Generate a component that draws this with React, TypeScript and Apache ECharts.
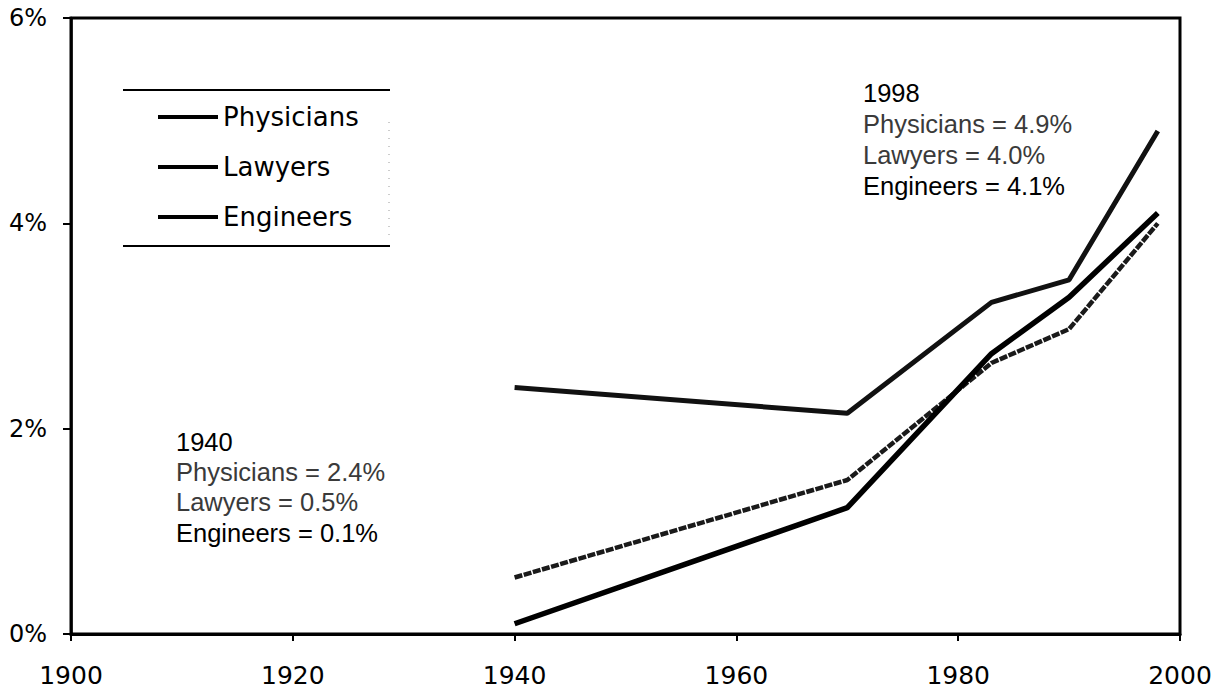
import React, { useEffect, useRef } from "react";
import * as echarts from "echarts";

const years = [1940, 1970, 1983, 1990, 1998];
const physicians = [2.4, 2.15, 3.23, 3.45, 4.9];
const lawyers = [0.55, 1.5, 2.64, 2.97, 4.0];
const engineers = [0.1, 1.23, 2.73, 3.28, 4.1];

const seriesNames = ["Physicians", "Lawyers", "Engineers"];
const notes1940 = ["1940", "Physicians = 2.4%", "Lawyers = 0.5%", "Engineers = 0.1%"];
const notes1998 = ["1998", "Physicians = 4.9%", "Lawyers = 4.0%", "Engineers = 4.1%"];

const toPairs = (vals: number[]) => years.map((y, i) => [y, vals[i]]);

export default function App() {
  const ref = useRef<HTMLDivElement>(null);
  useEffect(() => {
    if (!ref.current) return;
    const chart = echarts.init(ref.current, undefined, { renderer: "svg" });
    const noteFont = "25.5px 'Liberation Sans', Arial, sans-serif";
    const noteColors = ["#000", "#3a3a3a", "#3a3a3a", "#000"];
    const noteBlock = (lines: string[], x: number, ys: number[]) =>
      lines.map((t, i) => ({
        type: "text",
        x,
        y: ys[i],
        style: {
          text: t,
          font: noteFont,
          fill: noteColors[i],
          align: "left",
          verticalAlign: "middle",
        },
      }));
    chart.setOption({
      animation: false,
      backgroundColor: "#fff",
      grid: {
        left: 71,
        right: 45,
        top: 18,
        bottom: 60,
        show: true,
        borderColor: "#000",
        borderWidth: 3,
      },
      xAxis: {
        type: "value",
        min: 1900,
        max: 2000,
        interval: 20,
        axisLine: { show: true, lineStyle: { color: "#000", width: 3 } },
        axisTick: { show: true, inside: false, length: 7, lineStyle: { color: "#000", width: 2 } },
        splitLine: { show: false },
        axisLabel: {
          margin: 29,
          color: "#000",
          fontFamily: "'DejaVu Sans', sans-serif",
          fontSize: 25,
          formatter: (v: number) => String(v),
        },
      },
      yAxis: {
        type: "value",
        min: 0,
        max: 6,
        interval: 2,
        axisLine: { show: true, lineStyle: { color: "#000", width: 2.5 } },
        axisTick: { show: true, inside: false, length: 8, lineStyle: { color: "#000", width: 2 } },
        splitLine: { show: false },
        axisLabel: {
          margin: 24,
          color: "#000",
          fontFamily: "'DejaVu Sans', sans-serif",
          fontSize: 24,
          formatter: "{value}%",
        },
      },
      legend: {
        orient: "vertical",
        left: 153,
        top: 99,
        itemWidth: 60,
        itemHeight: 4,
        itemGap: 24,
        icon: "rect",
        data: seriesNames,
        textStyle: {
          color: "#000",
          fontFamily: "'DejaVu Sans', sans-serif",
          fontSize: 26,
          lineHeight: 26,
        },
      },
      graphic: [
        { type: "line", shape: { x1: 123, y1: 90, x2: 390, y2: 90 }, style: { stroke: "#000", lineWidth: 2 } },
        { type: "line", shape: { x1: 123, y1: 246, x2: 390, y2: 246 }, style: { stroke: "#000", lineWidth: 2 } },
        { type: "line", shape: { x1: 389, y1: 122, x2: 389, y2: 240 }, style: { stroke: "#999", lineWidth: 1, lineDash: [1, 7] } },
        ...noteBlock(notes1940, 176, [442, 472, 502, 533]),
        ...noteBlock(notes1998, 863, [93, 124, 155, 186]),
      ],
      series: [
        {
          name: seriesNames[0],
          type: "line",
          data: toPairs(physicians),
          symbol: "none",
          color: "#000",
          lineStyle: { color: "#111", width: 5 },
        },
        {
          name: seriesNames[1],
          type: "line",
          data: toPairs(lawyers),
          symbol: "none",
          color: "#000",
          lineStyle: { color: "#1a1a1a", width: 4.5, type: [8, 1.5] },
        },
        {
          name: seriesNames[2],
          type: "line",
          data: toPairs(engineers),
          symbol: "none",
          color: "#000",
          lineStyle: { color: "#000", width: 5.5 },
        },
      ],
    });
    return () => chart.dispose();
  }, []);
  return (
    <div
      ref={ref}
      style={{ position: "fixed", left: 0, top: 0, width: 1225, height: 694, background: "#fff" }}
    />
  );
}
